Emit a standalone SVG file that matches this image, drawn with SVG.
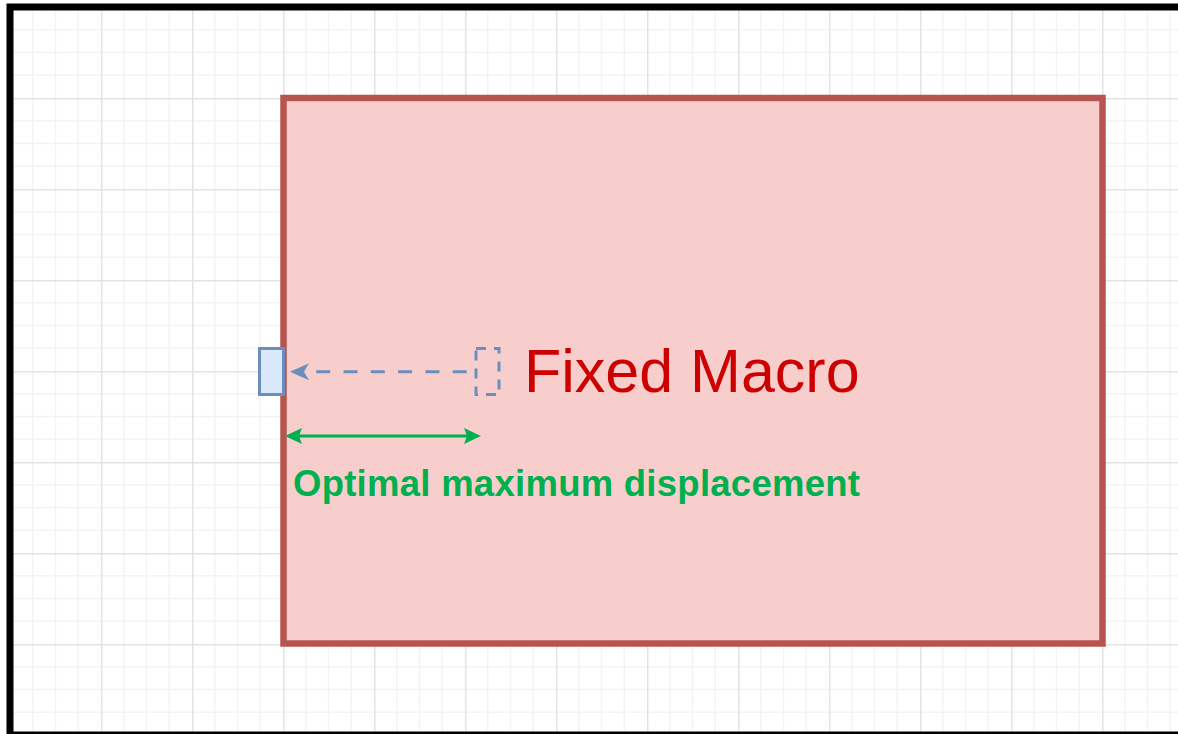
<svg xmlns="http://www.w3.org/2000/svg" width="1178" height="734" viewBox="0 0 1178 734">
  <style>
    .major { stroke: #e3e3e3; stroke-width: 1.5; }
    .minor { stroke: #f4f4f4; stroke-width: 1.5; }
    .macro { fill: #f8cecc; stroke: #b85450; stroke-width: 6.5; }
    .pin { fill: #dae8fc; stroke: #6c8ebf; stroke-width: 3; }
    .ghost { fill: none; stroke: #6c8ebf; stroke-width: 3; stroke-dasharray: 10 8; }
    .move { fill: none; stroke: #6c8ebf; stroke-width: 3; stroke-dasharray: 14 13.3; }
    .dim { fill: none; stroke: #00b050; stroke-width: 3; }
    .title { font-family: "Liberation Sans", Arial, sans-serif; font-size: 61px; fill: #cc0000; }
    .label { font-family: "Liberation Sans", Arial, sans-serif; font-size: 36.5px; font-weight: bold; fill: #00b050; }
  </style>
  <defs>
    <pattern id="grid" patternUnits="userSpaceOnUse" x="10" y="7" width="91" height="91">
      <line class="minor" x1="22.75" y1="0" x2="22.75" y2="91"/>
      <line class="minor" x1="45.5" y1="0" x2="45.5" y2="91"/>
      <line class="minor" x1="68.25" y1="0" x2="68.25" y2="91"/>
      <line class="minor" x1="0" y1="22.75" x2="91" y2="22.75"/>
      <line class="minor" x1="0" y1="45.5" x2="91" y2="45.5"/>
      <line class="minor" x1="0" y1="68.25" x2="91" y2="68.25"/>
      <line class="major" x1="0.75" y1="0" x2="0.75" y2="91"/>
      <line class="major" x1="0" y1="0.75" x2="91" y2="0.75"/>
    </pattern>
    <marker id="arrowBlue" markerUnits="userSpaceOnUse" viewBox="0 -10 22 20" markerWidth="22" markerHeight="20" refX="5" refY="0" orient="auto">
      <path d="M0,-8.5 L19,0 L0,8.5 L5,0 Z" fill="#6c8ebf"/>
    </marker>
    <marker id="arrowGreen" markerUnits="userSpaceOnUse" viewBox="0 -10 20 20" markerWidth="20" markerHeight="20" refX="3" refY="0" orient="auto-start-reverse">
      <path d="M0,-8 L17,0 L0,8 L3,0 Z" fill="#00b050"/>
    </marker>
  </defs>

  <rect x="0" y="0" width="1178" height="734" fill="#ffffff"/>
  <rect x="10" y="7" width="1180" height="740" fill="url(#grid)"/>
  <rect x="10" y="7" width="1180" height="728" fill="none" stroke="#000000" stroke-width="7"/>

  <g id="fixed-macro">
    <rect class="macro" x="283.5" y="98" width="819" height="545.5"/>
    <text class="title" x="524" y="392">Fixed Macro</text>
  </g>

  <g id="pin-final">
    <rect class="pin" x="259.5" y="348.5" width="24" height="46"/>
  </g>

  <g id="pin-original">
    <rect class="ghost" x="476" y="348.5" width="23" height="46"/>
  </g>

  <g id="connectors">
    <path class="move" d="M466.7,371.7 L304,371.7" marker-end="url(#arrowBlue)"/>
    <path class="dim" d="M299,436 L467,436" marker-start="url(#arrowGreen)" marker-end="url(#arrowGreen)"/>
  </g>

  <g id="displacement-label">
    <text class="label" x="293" y="496" textLength="567" lengthAdjust="spacing">Optimal maximum displacement</text>
  </g>
</svg>
